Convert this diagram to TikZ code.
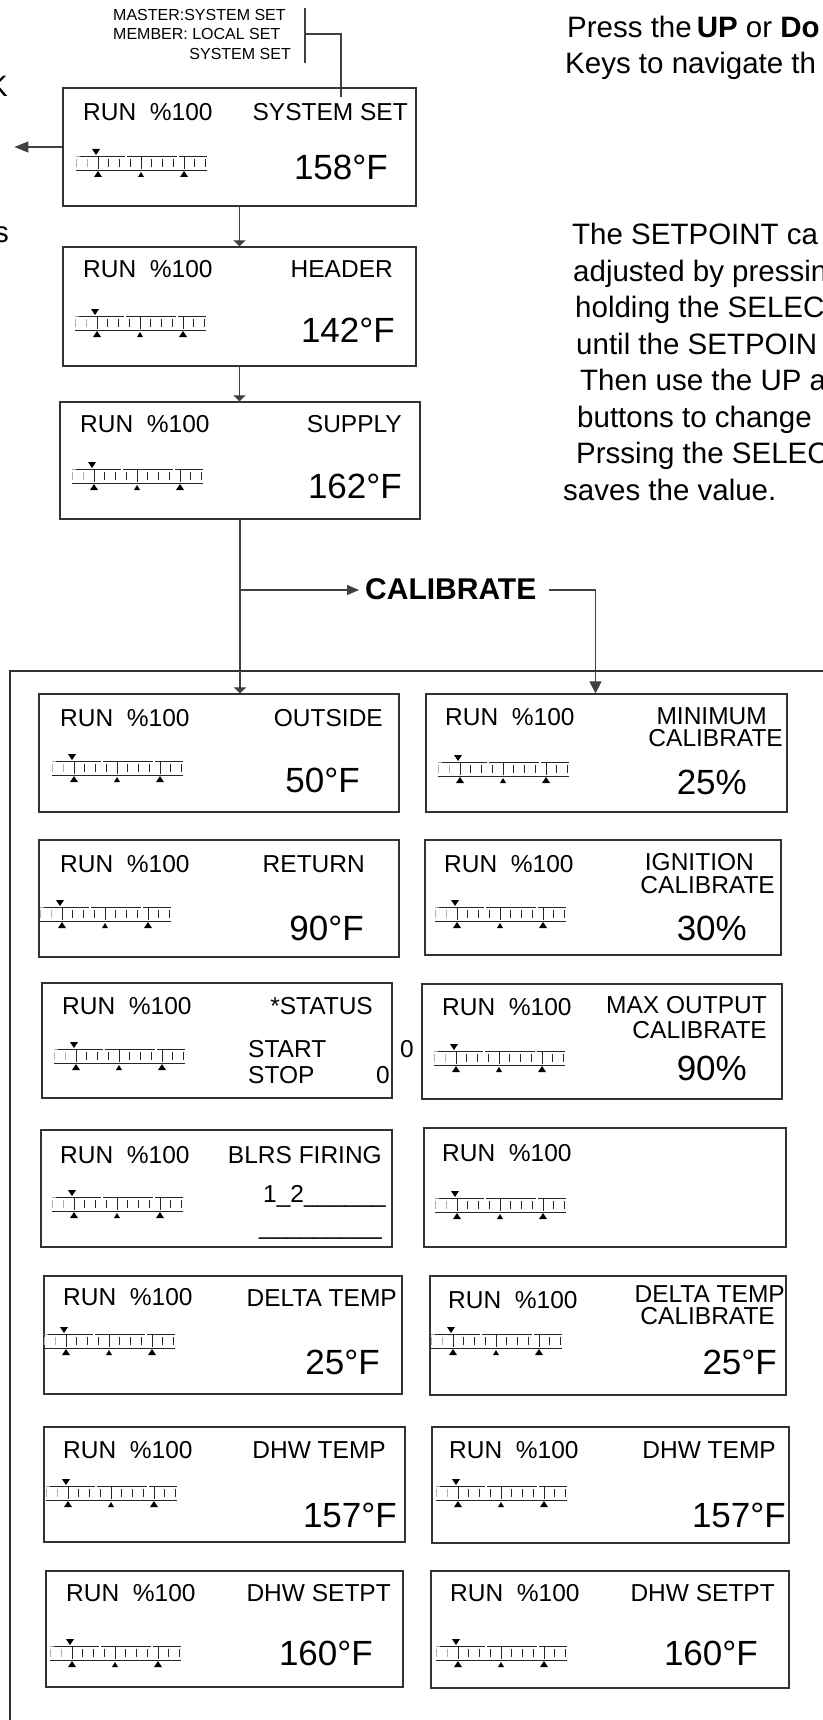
\documentclass[tikz,border=0pt]{standalone}
\usepackage{fontspec}
\setmainfont{Liberation Sans}
\usetikzlibrary{arrows.meta,fit}
\newcommand{\lcdL}{\fontsize{24.5}{27}\selectfont}
\newcommand{\lcdV}{\fontsize{35}{38}\selectfont}
\newcommand{\lcdS}{\fontsize{16}{18}\selectfont}
\newcommand{\lcdT}{\fontsize{29.5}{33}\selectfont}
\newcommand{\lcdC}{\fontsize{30}{33}\selectfont\bfseries}
\newcommand{\lcdscreen}[5]{\node[lcdbox, fit={(#2,#3) (#4,#5)}] (#1) {};}
\newcommand{\lcdrun}[3]{\node[lbl, anchor=base west] (#1) at (#2,#3) {RUN\ \ \%100};}
\begin{document}
\begin{tikzpicture}[x=1pt,y=-1pt,
  lcdbox/.style={draw=black!80, line width=1.2pt, inner sep=0pt},
  conn/.style={draw=black!75, line width=1.1pt},
  lbl/.style={inner sep=0pt, font=\lcdL},
  lab/.style={lbl, anchor=base east},
  val/.style={inner sep=0pt, font=\lcdV, anchor=base east},
  note/.style={inner sep=0pt, font=\lcdT, anchor=base west},
  small/.style={inner sep=0pt, font=\lcdS},
  barln/.style={line width=0.8pt, black!85},
  smallhead/.style={-{Triangle[length=6pt,width=12pt]}},
  scalebar/.pic={
    \draw[barln, black!35] (0,0) -- (4,0);
    \draw[barln] (4,0) -- (49,0) (51,0) -- (101,0) (103,0) -- (131,0);
    \draw[barln] (0,14) -- (131,14);
    \draw[barln, black!30] (0.5,3) -- (0.5,11) (11.25,3) -- (11.25,11);
    \draw[barln] (32.75,3) -- (32.75,11) (43.5,3) -- (43.5,11) (54.25,3) -- (54.25,11)
      (75.75,3) -- (75.75,11) (86.5,3) -- (86.5,11) (97.25,3) -- (97.25,11)
      (118.75,3) -- (118.75,11) (129.5,3) -- (129.5,11);
    \draw[barln] (22,1) -- (22,13) (65,1) -- (65,13) (108,1) -- (108,13);
    \fill (16,-7) -- (24,-7) -- (20,-1) -- cycle;
    \fill (18,21) -- (26,21) -- (22,15) -- cycle;
    \fill (62,21) -- (68,21) -- (65,16) -- cycle;
    \fill (104,21) -- (112,21) -- (108,15) -- cycle;
  }]
\useasboundingbox (0,0) rectangle (822,1720);

% left cut-off letters
\node[note, anchor=base east] (cutK) at (8,96.4) {K};
\node[note, anchor=base east] (cutS) at (9,243) {s};

% top annotation
\node[small, anchor=base west] (m1) at (113,20.7) {MASTER:SYSTEM SET};
\node[small, anchor=base west] (m2) at (113,39.3) {MEMBER: LOCAL SET};
\node[small, anchor=base east] (m3) at (291,59.3) {SYSTEM SET};
\coordinate (brT) at (305,8);
\coordinate (brB) at (305,63);
\coordinate (brM) at (305,34);
\coordinate (brE) at (341,97);
\draw[conn] (brT) -- (brB);
\draw[conn] (brM) -| (brE);

% right notes
\node[note] (p1) at (567,38) {Press the\hspace{5pt}\textbf{UP} or \textbf{Do}};
\node[note] (p2) at (565,74) {Keys to navigate th};
\node[note] (s1) at (572,245) {The SETPOINT ca};
\node[note] (s2) at (573,281.4) {adjusted by pressin};
\node[note] (s3) at (575,317.9) {holding the SELEC};
\node[note] (s4) at (576,354.3) {until the SETPOIN};
\node[note] (s5) at (580,390.7) {Then use the UP a};
\node[note] (s6) at (577,427.1) {buttons to change};
\node[note] (s7) at (576,463.6) {Prssing the SELEC};
\node[note] (s8) at (563,500) {saves the value.};

% ---- top column
\lcdscreen{B1}{63}{88}{416}{206}
\lcdrun{B1r}{83}{120.8}
\node[lab] (B1l) at (408,120.8) {SYSTEM SET};
\node[val] (B1v) at (388,179.5) {158°F};
\pic at (76,156) {scalebar};

\lcdscreen{B2}{63}{247}{416}{366}
\lcdrun{B2r}{83}{277.8}
\node[lab] (B2l) at (393,277.8) {HEADER};
\node[val] (B2v) at (395,342) {142°F};
\pic at (75,316) {scalebar};

\lcdscreen{B3}{60}{402}{420}{519}
\lcdrun{B3r}{80}{432.8}
\node[lab] (B3l) at (402,432.8) {SUPPLY};
\node[val] (B3v) at (402,498) {162°F};
\pic at (72,469) {scalebar};

% frame
\draw[lcdbox] (10,671) rectangle (840,1740);

% ---- left column
\lcdscreen{L1}{39}{694}{399}{812}
\lcdrun{L1r}{60}{726.8}
\node[lab] (L1l) at (383,726.8) {OUTSIDE};
\node[val] (L1v) at (360,792) {50°F};
\pic at (52,761) {scalebar};

\lcdscreen{L2}{39}{840}{399}{957}
\lcdrun{L2r}{60}{872.8}
\node[lab] (L2l) at (365,872.8) {RETURN};
\node[val] (L2v) at (364,940.5) {90°F};
\pic at (40,907) {scalebar};

\lcdscreen{L3}{42}{983}{392}{1098}
\lcdrun{L3r}{62}{1014.8}
\node[lab] (L3l) at (373,1014.8) {*STATUS};
\node[lbl, anchor=base west] (L3a) at (248,1057.8) {START};
\node[lbl, anchor=base west] (L3b) at (248,1083.8) {STOP};
\node[lab] (L3c) at (390,1083.8) {0};
\node[lbl, anchor=base west] (L3d) at (400,1057.8) {0};
\pic at (54,1049) {scalebar};

\lcdscreen{L4}{41}{1130}{392}{1247}
\lcdrun{L4r}{60}{1163.8}
\node[lab] (L4l) at (382,1163.8) {BLRS FIRING};
\node[lbl, anchor=base west] (L4a) at (263,1202) {1\_2\_\_\_\_\_\_};
\node[lbl, anchor=base west] (L4b) at (259,1234) {\_\_\_\_\_\_\_\_\_};
\pic at (52,1197) {scalebar};

\lcdscreen{L5}{44}{1276}{402}{1394}
\lcdrun{L5r}{63}{1305.8}
\node[lab] (L5l) at (397,1306.8) {DELTA TEMP};
\node[val] (L5v) at (380,1374.5) {25°F};
\pic at (44,1334) {scalebar};

\lcdscreen{L6}{44}{1427}{405}{1542}
\lcdrun{L6r}{63}{1458.8}
\node[lab] (L6l) at (386,1458.8) {DHW TEMP};
\node[val] (L6v) at (397,1527.5) {157°F};
\pic at (46,1486) {scalebar};

\lcdscreen{L7}{46}{1571}{403}{1687}
\lcdrun{L7r}{66}{1601.8}
\node[lab] (L7l) at (391,1601.8) {DHW SETPT};
\node[val] (L7v) at (373,1665) {160°F};
\pic at (50,1646) {scalebar};

% ---- right column
\lcdscreen{R1}{426}{694}{787}{812}
\lcdrun{R1r}{445}{725.8}
\node[lab] (R1l) at (767,724.8) {MINIMUM};
\node[lab] (R1m) at (783,746.8) {CALIBRATE};
\node[val] (R1v) at (747,794) {25\%};
\pic at (438,762) {scalebar};

\lcdscreen{R2}{425}{840}{781}{955}
\lcdrun{R2r}{444}{872.8}
\node[lab] (R2l) at (754,870.8) {IGNITION};
\node[lab] (R2m) at (775,893.3) {CALIBRATE};
\node[val] (R2v) at (747,940.5) {30\%};
\pic at (435,907) {scalebar};

\lcdscreen{R3}{422}{984}{782}{1099}
\lcdrun{R3r}{442}{1015.8}
\node[lab] (R3l) at (767,1013.8) {MAX OUTPUT};
\node[lab] (R3m) at (767,1038.8) {CALIBRATE};
\node[val] (R3v) at (747,1080) {90\%};
\pic at (434,1051) {scalebar};

\lcdscreen{R4}{424}{1128}{786}{1247}
\lcdrun{R4r}{442}{1161.8}
\pic at (435,1198) {scalebar};

\lcdscreen{R5}{430}{1276}{786}{1395}
\lcdrun{R5r}{448}{1308.8}
\node[lab] (R5l) at (785,1302.8) {DELTA TEMP};
\node[lab] (R5m) at (775,1324.8) {CALIBRATE};
\node[val] (R5v) at (777,1374.5) {25°F};
\pic at (431,1334) {scalebar};

\lcdscreen{R6}{432}{1427}{789}{1543}
\lcdrun{R6r}{449}{1458.8}
\node[lab] (R6l) at (776,1458.8) {DHW TEMP};
\node[val] (R6v) at (786,1527.5) {157°F};
\pic at (436,1486) {scalebar};

\lcdscreen{R7}{431}{1571}{789}{1688}
\lcdrun{R7r}{450}{1601.8}
\node[lab] (R7l) at (775,1601.8) {DHW SETPT};
\node[val] (R7v) at (758,1665) {160°F};
\pic at (436,1646) {scalebar};

% CALIBRATE branch
\node[inner sep=0pt, font=\lcdC, anchor=base west] (cal) at (365,599.3) {CALIBRATE};

% connectors
\draw[conn,-{Triangle[length=14pt,width=11pt]}] (B1.west) -- ++(-48,0);
\draw[conn,smallhead] (B1.south) -- (B1.south |- B2.north);
\draw[conn,smallhead] (B2.south) -- (B2.south |- B3.north);
\draw[conn,smallhead] (B3.south) -- (B3.south |- L1.north);
\draw[conn,-{Triangle[length=12pt,width=10pt]}] (B3.south |- 0,590) -- ([xshift=-6pt]cal.west |- 0,590);
\draw[conn,-{Triangle[length=12pt,width=12pt]}] ([xshift=12pt]cal.east |- 0,590) -| ([xshift=-11pt]R1.north);
\end{tikzpicture}
\end{document}
